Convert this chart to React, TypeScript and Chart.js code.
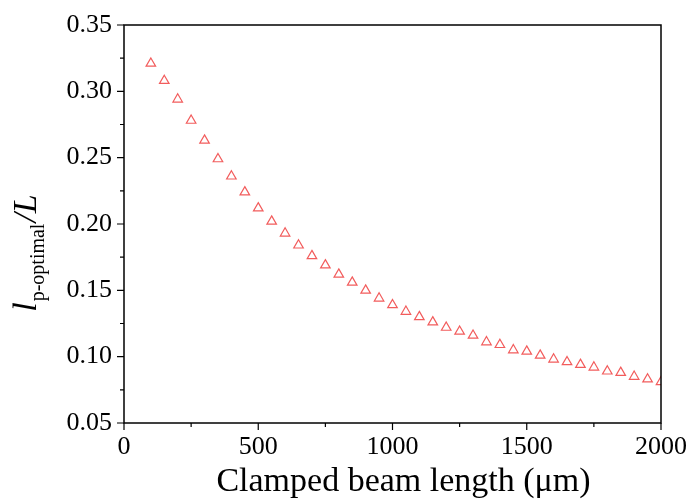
import React, { useEffect, useRef } from 'react';
import { Chart, registerables } from 'chart.js';

Chart.register(...registerables);

// ---- data ----
const beamLength = [
  100, 150, 200, 250, 300, 350, 400, 450, 500, 550,
  600, 650, 700, 750, 800, 850, 900, 950, 1000, 1050,
  1100, 1150, 1200, 1250, 1300, 1350, 1400, 1450, 1500, 1550,
  1600, 1650, 1700, 1750, 1800, 1850, 1900, 1950, 2000,
];
const optimalRatio = [
  0.321, 0.308, 0.294, 0.278, 0.263, 0.249, 0.236, 0.224, 0.212, 0.202,
  0.193, 0.184, 0.176, 0.169, 0.162, 0.156, 0.150, 0.144, 0.139, 0.134,
  0.130, 0.126, 0.122, 0.119, 0.116, 0.111, 0.109, 0.105, 0.104, 0.101,
  0.098, 0.096, 0.094, 0.092, 0.089, 0.088, 0.085, 0.083, 0.081,
];
const xMajorTicks = [0, 500, 1000, 1500, 2000];
const xMinorTicks = [250, 750, 1250, 1750];
const yMajorTicks = [0.05, 0.1, 0.15, 0.2, 0.25, 0.3, 0.35];
const yMinorTicks = [0.075, 0.125, 0.175, 0.225, 0.275, 0.325];

const xTitle = 'Clamped beam length (μm)';
const yTitleMain = 'l';
const yTitleSub = 'p-optimal';
const yTitleEnd = '/L';

const SERIF = '"Liberation Serif", "Times New Roman", serif';

const framePlugin = {
  id: 'frame',
  afterDraw(chart: any) {
    const { ctx, chartArea } = chart;
    const { left, right, top, bottom } = chartArea;
    const xs = chart.scales.x;
    const ys = chart.scales.y;
    ctx.save();
    ctx.strokeStyle = '#000';
    ctx.lineWidth = 1.5;
    ctx.strokeRect(left, top, right - left, bottom - top);
    ctx.lineWidth = 1.2;
    ctx.beginPath();
    xMajorTicks.forEach((v) => {
      const px = xs.getPixelForValue(v);
      ctx.moveTo(px, bottom);
      ctx.lineTo(px, bottom + 7);
    });
    xMinorTicks.forEach((v) => {
      const px = xs.getPixelForValue(v);
      ctx.moveTo(px, bottom);
      ctx.lineTo(px, bottom + 4);
    });
    yMajorTicks.forEach((v) => {
      const py = ys.getPixelForValue(v);
      ctx.moveTo(left, py);
      ctx.lineTo(left - 7, py);
    });
    yMinorTicks.forEach((v) => {
      const py = ys.getPixelForValue(v);
      ctx.moveTo(left, py);
      ctx.lineTo(left - 4, py);
    });
    ctx.stroke();

    ctx.fillStyle = '#000';

    // x axis title
    ctx.font = `34px ${SERIF}`;
    ctx.textAlign = 'center';
    ctx.textBaseline = 'alphabetic';
    ctx.fillText(xTitle, (left + right) / 2 + 11, 491);

    // y axis title with subscript
    const mainFont = `italic 34px ${SERIF}`;
    const subFont = `20px ${SERIF}`;
    ctx.font = mainFont;
    const w1 = ctx.measureText(yTitleMain).width;
    const w3 = ctx.measureText(yTitleEnd).width;
    ctx.font = subFont;
    const w2 = ctx.measureText(yTitleSub).width;
    const total = w1 + w2 + w3 + 2;
    const cx = 36;
    const cy = 253;
    ctx.translate(cx, cy);
    ctx.rotate(-Math.PI / 2);
    ctx.textAlign = 'left';
    let x0 = -total / 2;
    ctx.font = mainFont;
    ctx.fillText(yTitleMain, x0, 0);
    x0 += w1 + 1;
    ctx.font = subFont;
    ctx.fillText(yTitleSub, x0, 8);
    x0 += w2 + 1;
    ctx.font = mainFont;
    ctx.fillText(yTitleEnd, x0, 0);
    ctx.restore();
  },
};

export default function App() {
  const ref = useRef<HTMLCanvasElement | null>(null);
  useEffect(() => {
    if (!ref.current) return;
    const chart = new Chart(ref.current, {
      type: 'scatter',
      data: {
        datasets: [
          {
            data: beamLength.map((x, i) => ({ x, y: optimalRatio[i] })),
            pointStyle: 'triangle',
            pointRadius: 5.5,
            pointBorderWidth: 1.2,
            borderColor: '#f25c5c',
            backgroundColor: 'rgba(0,0,0,0)',
            showLine: false,
            clip: 0,
          } as any,
        ],
      },
      options: {
        responsive: false,
        animation: false,
        layout: { padding: { top: 25, right: 28, left: 0, bottom: 0 } },
        plugins: { legend: { display: false }, tooltip: { enabled: false } },
        scales: {
          x: {
            type: 'linear',
            min: 0,
            max: 2000,
            afterBuildTicks: (s: any) => {
              s.ticks = xMajorTicks.map((v) => ({ value: v }));
            },
            afterFit: (s: any) => {
              s.height = 76;
              s.paddingLeft = 0;
              s.paddingRight = 0;
            },
            grid: { display: false, drawTicks: false },
            border: { display: false },
            ticks: {
              padding: 9,
              color: '#000',
              font: { family: SERIF, size: 26 },
              maxRotation: 0,
              callback: (v: any) => String(v),
            },
          },
          y: {
            type: 'linear',
            min: 0.05,
            max: 0.35,
            afterBuildTicks: (s: any) => {
              s.ticks = yMajorTicks.map((v) => ({ value: v }));
            },
            afterFit: (s: any) => {
              s.width = 124;
              s.paddingTop = 0;
              s.paddingBottom = 0;
            },
            grid: { display: false, drawTicks: false },
            border: { display: false },
            ticks: {
              padding: 12,
              color: '#000',
              font: { family: SERIF, size: 26 },
              callback: (v: any) => Number(v).toFixed(2),
            },
          },
        },
      },
      plugins: [framePlugin],
    });
    return () => chart.destroy();
  }, []);
  return (
    <div style={{ position: 'absolute', left: 0, top: 0, width: 689, height: 499, background: '#fff' }}>
      <canvas ref={ref} width={689} height={499} />
    </div>
  );
}
